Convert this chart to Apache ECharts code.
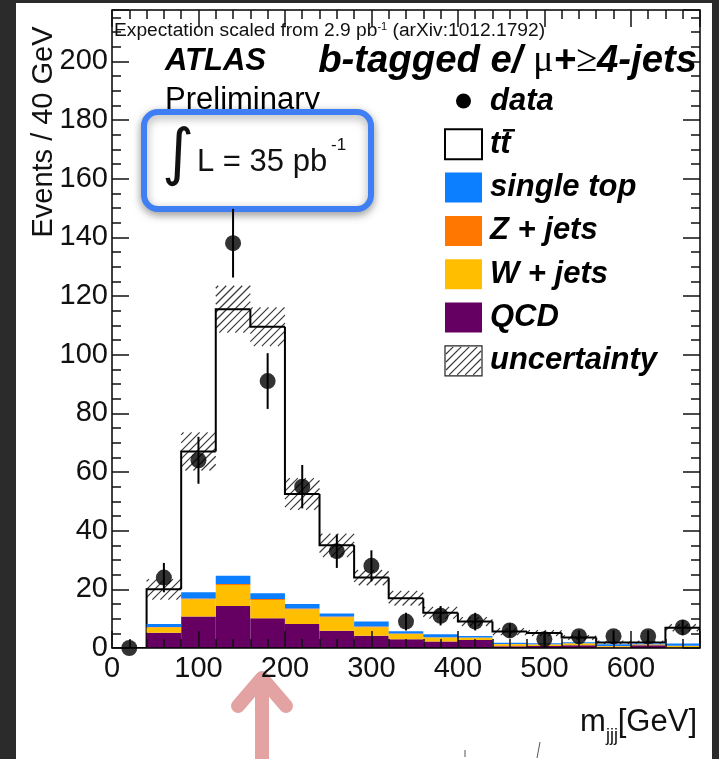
<!DOCTYPE html>
<html>
<head>
<meta charset="utf-8">
<script src="https://cdn.jsdelivr.net/npm/echarts@6/dist/echarts.min.js"></script>
<style>
  html, body { margin: 0; padding: 0; background: #2b2b2b; }
  #panel { position: absolute; left: 16px; top: 3px; width: 696px; height: 756px; background: #fff; }
  #chart { position: absolute; left: 0; top: 0; width: 719px; height: 759px; }
</style>
</head>
<body>
<div id="panel"></div>
<div id="chart"></div>
<script>
// bin edges in GeV (40 GeV bins)
const binEdges = [0, 40, 80, 120, 160, 200, 240, 280, 320, 360, 400, 440, 480, 520, 560, 600, 640, 680]
const xTicks = [0, 100, 200, 300, 400, 500, 600]
const yTicks = [0, 20, 40, 60, 80, 100, 120, 140, 160, 180, 200]

// data points and their errors
const dataCounts = [0, 24, 64, 138, 91, 55, 33, 28, 9, 11, 9, 6, 3, 4, 4, 4, 7]
const dataErr = [0, 5, 8, 11.7, 9.5, 7.4, 5.7, 5.3, 3, 3.3, 3, 2.4, 1.7, 2, 2, 2, 2.6]

// stacked expectation, bottom to top
const qcd = [0, 5.2, 10.7, 14.3, 10.1, 8.2, 5.9, 4.2, 3.0, 2.2, 2.7, 0.6, 0.7, 0.9, 0.2, 0.9, 0.1]
const wJets = [0, 1.8, 5.9, 7.2, 6.3, 5.0, 4.6, 2.9, 1.8, 1.4, 0.8, 0.7, 0.5, 0.7, 0.4, 0.3, 0.6]
const zJets = [0, 0.2, 0.3, 0.3, 0.3, 0.3, 0.2, 0.2, 0.15, 0.1, 0.1, 0.05, 0.05, 0.05, 0.05, 0.05, 0.05]
const singleTop = [0, 1.0, 2.1, 2.8, 2.0, 1.5, 1.1, 1.7, 0.75, 1.0, 0.5, 0.45, 0.35, 0.35, 0.6, 0.25, 0.75]
const ttbar = [0, 11.8, 48, 90.9, 90.8, 37.5, 23.2, 15, 11.3, 7.3, 4.9, 3.8, 3.5, 1.6, 0.65, 0.4, 5.4]
// half width of the hatched uncertainty band
const uncert = [0, 3.5, 6.5, 8, 6.6, 5.4, 4, 2.6, 2.5, 2, 1.5, 1.2, 1, 0.8, 0.6, 0.6, 1.2]

const COLORS = {
  qcd: '#650062',
  w: '#ffbe00',
  z: '#ff7700',
  st: '#0b7fff',
  tt: '#ffffff'
}

const chart = echarts.init(document.getElementById('chart'))

// build stacked boxes [lo, hi, base, top]
const layers = [qcd, wJets, zJets, singleTop, ttbar]
const cum = binEdges.slice(0, -1).map(() => 0)
const layerRows = layers.map(vals => vals.map((v, i) => {
  const row = [binEdges[i], binEdges[i + 1], cum[i], cum[i] + v]
  cum[i] += v
  return row
}))
const totals = cum.slice()

function hatchLines(x0, y0, x1, y1, step, style) {
  const out = []
  const start = Math.ceil((x0 + y0) / step) * step
  for (let c = start; c <= x1 + y1; c += step) {
    const xa = Math.max(x0, c - y1)
    const xb = Math.min(x1, c - y0)
    if (xb - xa < 0.5) continue
    out.push({ type: 'line', shape: { x1: xa, y1: c - xa, x2: xb, y2: c - xb }, style })
  }
  return out
}

function boxSeries(name, rows, color, z) {
  return {
    name, type: 'custom', z, clip: true,
    data: rows,
    encode: { x: [0, 1], y: [2, 3] },
    renderItem: (params, api) => {
      const a = api.coord([api.value(0), api.value(3)])
      const b = api.coord([api.value(1), api.value(2)])
      return {
        type: 'rect',
        shape: { x: a[0], y: a[1], width: b[0] - a[0], height: b[1] - a[1] },
        style: { fill: color }
      }
    }
  }
}

const hatchStyle = { stroke: '#3a3a3a', lineWidth: 1.2 }

const series = [
  boxSeries('tt', layerRows[4], COLORS.tt, 2),
  {
    name: 'uncertainty', type: 'custom', z: 3, clip: true,
    data: totals.map((t, i) => [binEdges[i], binEdges[i + 1], t - uncert[i], t + uncert[i]]),
    encode: { x: [0, 1], y: [2, 3] },
    renderItem: (params, api) => {
      if (api.value(3) - api.value(2) <= 0) return
      const a = api.coord([api.value(0), api.value(3)])
      const b = api.coord([api.value(1), api.value(2)])
      return { type: 'group', children: hatchLines(a[0], a[1], b[0], b[1], 8, hatchStyle) }
    }
  },
  {
    name: 'outline', type: 'custom', z: 4, clip: true,
    data: totals.map((t, i) => [binEdges[i], binEdges[i + 1], t, i > 0 ? totals[i - 1] : 0, i === totals.length - 1 ? 1 : 0]),
    encode: { x: [0, 1], y: [2, 3] },
    renderItem: (params, api) => {
      const lo = api.value(0), hi = api.value(1), t = api.value(2), prev = api.value(3)
      const pts = [api.coord([lo, prev]), api.coord([lo, t]), api.coord([hi, t])]
      if (api.value(4)) pts.push(api.coord([hi, 0]))
      return { type: 'polyline', shape: { points: pts }, style: { stroke: '#000', lineWidth: 2, fill: null } }
    }
  },
  boxSeries('QCD', layerRows[0], COLORS.qcd, 5),
  boxSeries('W + jets', layerRows[1], COLORS.w, 5),
  boxSeries('Z + jets', layerRows[2], COLORS.z, 5),
  boxSeries('single top', layerRows[3], COLORS.st, 5),
  {
    name: 'errors', type: 'custom', z: 11, clip: false,
    data: dataCounts.map((v, i) => [(binEdges[i] + binEdges[i + 1]) / 2, v - dataErr[i], v + dataErr[i]]),
    encode: { x: 0, y: [1, 2] },
    renderItem: (params, api) => {
      const a = api.coord([api.value(0), api.value(1)])
      const b = api.coord([api.value(0), api.value(2)])
      return { type: 'line', shape: { x1: a[0], y1: a[1], x2: b[0], y2: b[1] }, style: { stroke: '#000', lineWidth: 2 } }
    }
  },
  {
    name: 'data', type: 'scatter', z: 12, clip: false,
    symbol: 'circle', symbolSize: 16,
    itemStyle: { color: '#000' },
    data: dataCounts.map((v, i) => [(binEdges[i] + binEdges[i + 1]) / 2, v])
  }
]

const Y_MAX = 217.5
const labelFont = { fontFamily: 'Liberation Sans', fontSize: 29, color: '#111' }
const tickLine = { color: '#111', width: 1.5 }

// every axis sits on the same grid; major and minor ticks are separate axes
function mkX(position, interval, len, labels) {
  return {
    type: 'value', gridIndex: 0, position, offset: 0, min: 0, max: binEdges[binEdges.length - 1], interval, z: 10,
    axisLine: { show: false, onZero: false }, splitLine: { show: false },
    axisTick: { show: true, inside: true, length: len, lineStyle: tickLine },
    axisLabel: labels ? {
      ...labelFont, margin: 6,
      formatter: v => (xTicks.includes(v) ? String(v) : '')
    } : { show: false }
  }
}
function mkY(position, interval, len, labels) {
  return {
    type: 'value', gridIndex: 0, position, offset: 0, min: 0, max: Y_MAX, interval, z: 10,
    axisLine: { show: false, onZero: false }, splitLine: { show: false },
    axisTick: { show: true, inside: true, length: len, lineStyle: tickLine },
    axisLabel: labels ? {
      ...labelFont, margin: 4,
      formatter: v => (yTicks.includes(v) ? String(v) : '')
    } : { show: false }
  }
}

const legendRows = [
  { label: 'data', kind: 'dot' },
  { label: 'tt', kind: 'tt' },
  { label: 'single top', kind: 'fill', color: COLORS.st },
  { label: 'Z + jets', kind: 'fill', color: COLORS.z },
  { label: 'W + jets', kind: 'fill', color: COLORS.w },
  { label: 'QCD', kind: 'fill', color: COLORS.qcd },
  { label: 'uncertainty', kind: 'hatch' }
]
const legendFont = { fontFamily: 'Liberation Sans', fontWeight: 'bold', fontStyle: 'italic', fontSize: 31, fill: '#000' }

const legendEls = []
legendRows.forEach((r, i) => {
  const cy = 101 + i * 43.3
  const bx = 445, bw = 37, bh = 30
  if (r.kind === 'dot') {
    legendEls.push({ type: 'circle', shape: { cx: bx + bw / 2, cy, r: 7.5 }, style: { fill: '#000' } })
  } else if (r.kind === 'tt') {
    legendEls.push({ type: 'rect', shape: { x: bx, y: cy - bh / 2, width: bw, height: bh }, style: { fill: '#fff', stroke: '#000', lineWidth: 2 } })
  } else if (r.kind === 'fill') {
    legendEls.push({ type: 'rect', shape: { x: bx, y: cy - bh / 2, width: bw, height: bh }, style: { fill: r.color } })
  } else {
    legendEls.push({ type: 'rect', shape: { x: bx, y: cy - bh / 2, width: bw, height: bh }, style: { fill: '#fff', stroke: '#222', lineWidth: 1.2 } })
    hatchLines(bx + 1, cy - bh / 2 + 1, bx + bw - 1, cy + bh / 2 - 1, 8, hatchStyle).forEach(l => legendEls.push(l))
  }
  legendEls.push({ type: 'text', x: 490, y: cy, style: { text: r.label, ...legendFont, textVerticalAlign: 'middle' } })
  if (r.kind === 'tt') {
    legendEls.push({ type: 'line', shape: { x1: 503, y1: cy - 14, x2: 515, y2: cy - 14 }, style: { stroke: '#000', lineWidth: 2.5 } })
  }
})

const option = {
  animation: false,
  backgroundColor: 'transparent',
  grid: {
    left: 112, top: 10, width: 588, height: 638, containLabel: false, outerBoundsMode: 'none',
    show: true, z: 10, borderColor: '#000', borderWidth: 1.5, backgroundColor: 'transparent'
  },
  xAxis: [
    mkX('bottom', 100, 17, true),
    mkX('top', 100, 17, false),
    mkX('bottom', 20, 9, false),
    mkX('top', 20, 9, false)
  ],
  yAxis: [
    mkY('left', 20, 17, true),
    mkY('right', 20, 17, false),
    mkY('left', 5, 9, false),
    mkY('right', 5, 9, false)
  ],
  series,
  graphic: [
    {
      type: 'group', z: 50, children: [
        {
          type: 'text', x: 114, y: 31,
          style: {
            text: '{a|Expectation scaled from 2.9 pb}{s|-1}{a| (arXiv:1012.1792)}',
            textVerticalAlign: 'middle',
            rich: {
              a: { fontFamily: 'Liberation Sans', fontSize: 19.2, fill: '#111', lineHeight: 20 },
              s: { fontFamily: 'Liberation Sans', fontSize: 11, fill: '#111', lineHeight: 20, verticalAlign: 'top' }
            }
          }
        },
        { type: 'text', x: 165, y: 61, style: { text: 'ATLAS', fontFamily: 'Liberation Sans', fontWeight: 'bold', fontStyle: 'italic', fontSize: 31, fill: '#000', textVerticalAlign: 'middle' } },
        {
          type: 'text', x: 697, y: 61,
          style: {
            text: '{b|b-tagged e/ }{m|μ}{b|+}{m|≥}{b|4-jets}',
            textAlign: 'right', textVerticalAlign: 'middle',
            rich: {
              b: { fontFamily: 'Liberation Sans', fontWeight: 'bold', fontStyle: 'italic', fontSize: 38.3, fill: '#000' },
              m: { fontFamily: 'Liberation Serif', fontSize: 38.3, fill: '#000' }
            }
          }
        },
        { type: 'text', x: 165, y: 100, style: { text: 'Preliminary', fontFamily: 'Liberation Sans', fontSize: 31, fill: '#000', textVerticalAlign: 'middle' } },
        { type: 'text', x: 44, y: 132, rotation: Math.PI / 2, style: { text: 'Events / 40 GeV', fontFamily: 'Liberation Sans', fontSize: 29, fill: '#111', textAlign: 'center', textVerticalAlign: 'middle' } },
        { type: 'text', x: 580, y: 722, style: { text: 'm', fontFamily: 'Liberation Sans', fontSize: 31, fill: '#111', textVerticalAlign: 'middle' } },
        { type: 'text', x: 606, y: 736, style: { text: 'jjj', fontFamily: 'Liberation Sans', fontSize: 18, fill: '#111', textVerticalAlign: 'middle' } },
        { type: 'text', x: 697, y: 722, style: { text: '[GeV]', fontFamily: 'Liberation Sans', fontSize: 31, fill: '#111', textAlign: 'right', textVerticalAlign: 'middle' } },
        ...legendEls
      ]
    },
    {
      type: 'group', z: 100, children: [
        {
          type: 'rect', shape: { x: 144, y: 112, width: 227, height: 97, r: 14 },
          style: { fill: '#fff', stroke: '#3f7ff3', lineWidth: 6, shadowBlur: 10, shadowOffsetY: 3, shadowColor: 'rgba(0,0,0,0.35)' }
        },
        { type: 'text', x: 178, y: 157, style: { text: '∫', fontFamily: 'DejaVu Sans', fontSize: 62, fill: '#111', textAlign: 'center', textVerticalAlign: 'middle' } },
        { type: 'text', x: 197, y: 162, style: { text: 'L = 35 pb', fontFamily: 'Liberation Sans', fontSize: 31, fill: '#111', textVerticalAlign: 'middle' } },
        { type: 'text', x: 331, y: 145, style: { text: '-1', fontFamily: 'Liberation Sans', fontSize: 17, fill: '#111', textVerticalAlign: 'middle' } },
        // pink arrow below the axis
        {
          type: 'polyline', shape: { points: [[238, 706], [262, 678], [286, 706]] },
          style: { stroke: '#e4a3a3', lineWidth: 14, lineCap: 'round', lineJoin: 'round', fill: null }
        },
        { type: 'line', shape: { x1: 262, y1: 682, x2: 262, y2: 770 }, style: { stroke: '#e4a3a3', lineWidth: 14 } },
        { type: 'line', shape: { x1: 465, y1: 750, x2: 465, y2: 757 }, style: { stroke: '#555', lineWidth: 1 } },
        { type: 'line', shape: { x1: 540, y1: 742, x2: 537, y2: 758 }, style: { stroke: '#555', lineWidth: 1 } }
      ]
    }
  ]
}

chart.setOption(option)
</script>
</body>
</html>
